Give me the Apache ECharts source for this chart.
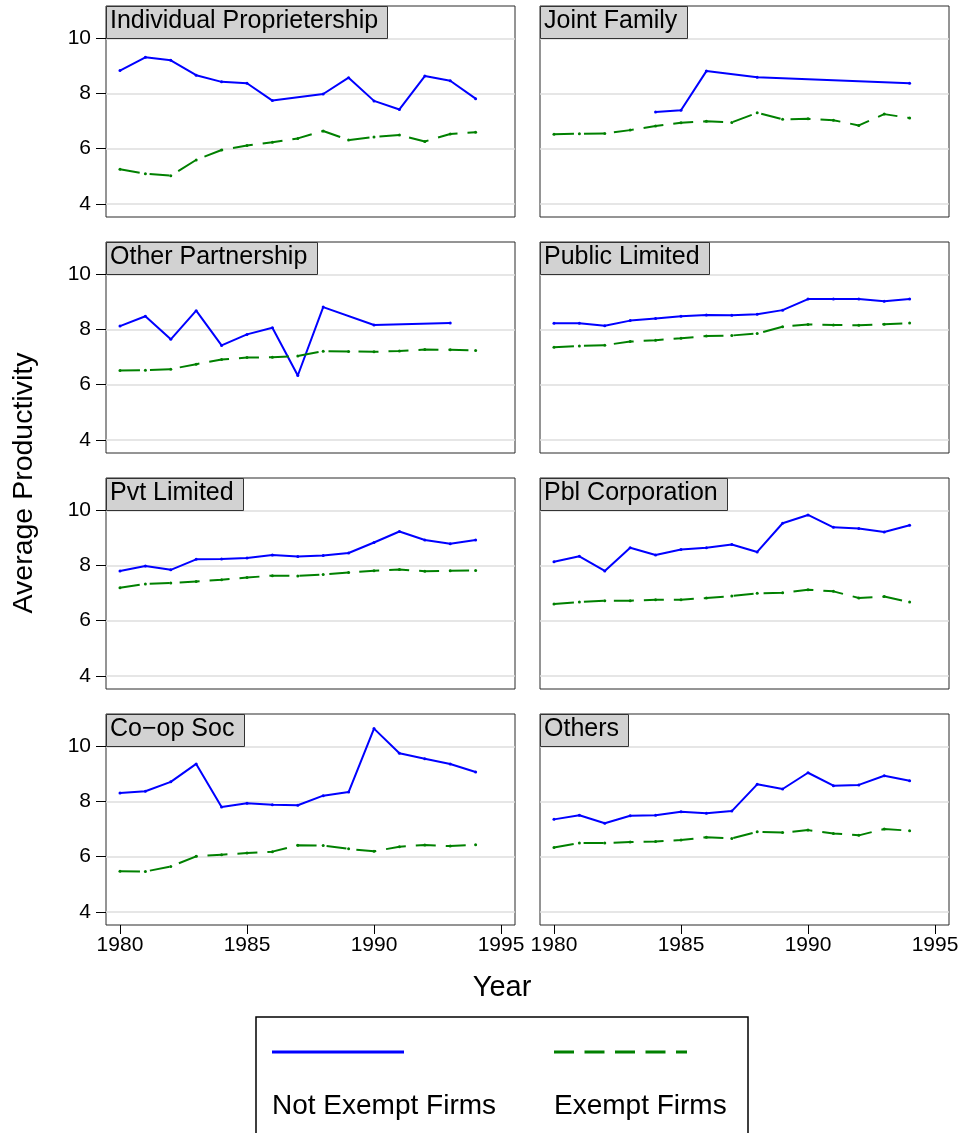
<!DOCTYPE html>
<html>
<head>
<meta charset="utf-8">
<title>Average Productivity by Ownership Type</title>
<script src="https://cdn.jsdelivr.net/npm/echarts@6/dist/echarts.min.js"></script>
<style>
  html, body { margin: 0; padding: 0; background: #ffffff; }
  #chart { width: 966px; height: 1133px; }
</style>
</head>
<body>
<div id="chart"></div>
<script>
// Years on the horizontal axis
const years = [1980, 1981, 1982, 1983, 1984, 1985, 1986, 1987, 1988, 1989, 1990, 1991, 1992, 1993, 1994];

// Panel headings (row by row, left to right)
const panelNames = ['Individual Proprietership', 'Joint Family', 'Other Partnership', 'Public Limited',
                    'Pvt Limited', 'Pbl Corporation', 'Co\u2212op Soc', 'Others'];

// Tick labels
const xTicks = [1980, 1985, 1990, 1995];
const yTicks = [4, 6, 8, 10];

// Average productivity, not exempt firms (null = no observation)
const indivNot   = [8.83, 9.31, 9.20, 8.66, 8.42, 8.37, 7.74, null, 7.98, 8.57, 7.73, 7.42, 8.63, 8.46, 7.81];
const jointNot   = [null, null, null, null, 7.33, 7.39, 8.81, null, 8.59, null, null, null, null, null, 8.37];
const otherPNot  = [8.12, 8.48, 7.64, 8.68, 7.42, 7.82, 8.06, 6.33, 8.81, null, 8.16, null, null, 8.23, null];
const publicNot  = [8.22, 8.22, 8.13, 8.32, 8.40, 8.48, 8.52, 8.51, 8.55, 8.70, 9.10, 9.10, 9.10, 9.02, 9.10];
const pvtNot     = [7.80, 7.98, 7.84, 8.22, 8.23, 8.27, 8.38, 8.32, 8.36, 8.45, 8.83, 9.23, 8.92, 8.79, 8.92];
const pblNot     = [8.13, 8.33, 7.80, 8.64, 8.38, 8.58, 8.64, 8.76, 8.49, 9.53, 9.83, 9.38, 9.34, 9.21, 9.46];
const coopNot    = [8.31, 8.37, 8.71, 9.36, 7.80, 7.93, 7.88, 7.86, 8.21, 8.34, 10.64, 9.75, 9.55, 9.36, 9.07];
const othersNot  = [7.35, 7.50, 7.21, 7.48, 7.50, 7.63, 7.57, 7.65, 8.62, 8.45, 9.04, 8.57, 8.60, 8.93, 8.75];

// Average productivity, exempt firms
const indivEx    = [5.25, 5.09, 5.02, 5.59, 5.95, 6.11, 6.23, 6.37, 6.64, 6.31, 6.42, 6.49, 6.26, 6.53, 6.59];
const jointEx    = [6.52, 6.54, 6.55, 6.67, 6.82, 6.94, 6.99, 6.95, 7.30, 7.06, 7.08, 7.03, 6.84, 7.25, 7.11];
const otherPEx   = [6.51, 6.52, 6.56, 6.74, 6.91, 6.98, 6.99, 7.04, 7.21, 7.20, 7.19, 7.22, 7.27, 7.26, 7.24];
const publicEx   = [7.35, 7.40, 7.43, 7.56, 7.61, 7.68, 7.76, 7.78, 7.85, 8.10, 8.18, 8.16, 8.15, 8.19, 8.23];
const pvtEx      = [7.19, 7.33, 7.36, 7.42, 7.48, 7.56, 7.63, 7.62, 7.67, 7.74, 7.81, 7.85, 7.79, 7.81, 7.82];
const pblEx      = [6.60, 6.67, 6.72, 6.72, 6.76, 6.76, 6.82, 6.89, 6.99, 7.01, 7.12, 7.06, 6.82, 6.87, 6.67];
const coopEx     = [5.47, 5.46, 5.64, 6.01, 6.07, 6.13, 6.18, 6.41, 6.40, 6.28, 6.19, 6.36, 6.42, 6.38, 6.43];
const othersEx   = [6.33, 6.49, 6.49, 6.53, 6.55, 6.60, 6.70, 6.66, 6.90, 6.87, 6.96, 6.84, 6.77, 7.00, 6.94];

const notExemptByPanel = [indivNot, jointNot, otherPNot, publicNot, pvtNot, pblNot, coopNot, othersNot];
const exemptByPanel    = [indivEx, jointEx, otherPEx, publicEx, pvtEx, pblEx, coopEx, othersEx];

const FONT = '"Liberation Sans", Arial, Helvetica, sans-serif';
const BLUE = '#0000ff';
const GREEN = '#008000';

// Panel geometry
const colLeft = [106, 540];
const rowTop = [6, 242, 478, 714];
const panelW = 409;
const panelH = 211;

const plain = function (v) { return String(v); };

const grids = [], xAxes = [], yAxes = [], series = [], titles = [];

panelNames.forEach(function (name, i) {
  const col = i % 2;
  const row = Math.floor(i / 2);
  const isLeft = col === 0;
  const isBottom = row === 3;

  grids.push({
    left: colLeft[col], top: rowTop[row], width: panelW, height: panelH,
    show: true, borderColor: '#2a2a2a', borderWidth: 1, backgroundColor: '#ffffff'
  });

  xAxes.push({
    type: 'value', gridIndex: i, min: 1979.45, max: 1995.55,
    axisLine: { show: false },
    axisTick: { show: isBottom, length: 9, customValues: xTicks, lineStyle: { color: '#000', width: 1 } },
    axisLabel: { show: isBottom, customValues: xTicks, formatter: plain, fontSize: 21, color: '#000', fontFamily: FONT, margin: 10 },
    splitLine: { show: false }
  });

  yAxes.push({
    type: 'value', gridIndex: i, min: 3.52, max: 11.17,
    axisLine: { show: false },
    axisTick: { show: isLeft, length: 10, customValues: yTicks, lineStyle: { color: '#000', width: 1 } },
    axisLabel: { show: isLeft, customValues: yTicks, formatter: plain, fontSize: 21, color: '#000', fontFamily: FONT, margin: 15 },
    splitLine: { show: true, lineStyle: { color: '#dedede', width: 1.5 } }
  });

  const toPairs = function (vals) {
    return years.map(function (y, k) { return [y, vals[k]]; });
  };

  series.push({
    name: 'Not Exempt Firms', type: 'line', xAxisIndex: i, yAxisIndex: i,
    data: toPairs(notExemptByPanel[i]), connectNulls: true,
    symbol: 'circle', symbolSize: 3, showAllSymbol: true,
    lineStyle: { color: BLUE, width: 2 }, itemStyle: { color: BLUE },
    animation: false, silent: true
  });
  series.push({
    name: 'Exempt Firms', type: 'line', xAxisIndex: i, yAxisIndex: i,
    data: toPairs(exemptByPanel[i]), connectNulls: true,
    symbol: 'circle', symbolSize: 3, showAllSymbol: true,
    lineStyle: { color: GREEN, width: 2, type: [20, 10] }, itemStyle: { color: GREEN },
    animation: false, silent: true
  });

  titles.push({
    text: name, left: colLeft[col], top: rowTop[row],
    padding: [2, 10, 4, 4], itemGap: 0,
    backgroundColor: '#d2d2d2', borderColor: '#333333', borderWidth: 1,
    textStyle: { fontSize: 25, fontWeight: 'normal', color: '#000', fontFamily: FONT, lineHeight: 27 }
  });
});

// Axis titles and the legend box below the panels
const graphics = [
  { type: 'text', x: 24, y: 483, rotation: Math.PI / 2,
    style: { text: 'Average Productivity', fontSize: 28.5, fontFamily: FONT, fill: '#000', align: 'center', verticalAlign: 'middle' } },
  { type: 'text', x: 502, y: 988,
    style: { text: 'Year', fontSize: 29, fontFamily: FONT, fill: '#000', align: 'center', verticalAlign: 'middle' } },
  { type: 'rect', shape: { x: 256, y: 1017, width: 492, height: 140 },
    style: { fill: '#ffffff', stroke: '#000', lineWidth: 1.5 } },
  { type: 'line', shape: { x1: 272, y1: 1052, x2: 404, y2: 1052 },
    style: { stroke: BLUE, lineWidth: 3 } },
  { type: 'line', shape: { x1: 554, y1: 1052, x2: 687, y2: 1052 },
    style: { stroke: GREEN, lineWidth: 3, lineDash: [20, 10.5] } },
  { type: 'text', x: 272, y: 1106,
    style: { text: 'Not Exempt Firms', fontSize: 28, fontFamily: FONT, fill: '#000', align: 'left', verticalAlign: 'middle' } },
  { type: 'text', x: 554, y: 1106,
    style: { text: 'Exempt Firms', fontSize: 28, fontFamily: FONT, fill: '#000', align: 'left', verticalAlign: 'middle' } }
];

const chart = echarts.init(document.getElementById('chart'), null, { renderer: 'canvas' });
chart.setOption({
  backgroundColor: '#ffffff',
  animation: false,
  title: titles,
  grid: grids,
  xAxis: xAxes,
  yAxis: yAxes,
  series: series,
  graphic: graphics
});
</script>
</body>
</html>
